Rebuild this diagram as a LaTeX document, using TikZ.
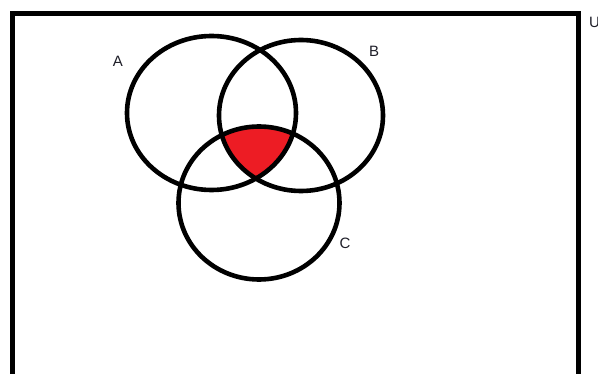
\documentclass[tikz,border=0pt]{standalone}
\usepackage{fontspec}
\setmainfont{Liberation Sans}
\definecolor{vennred}{RGB}{237,28,36}
\definecolor{venntext}{RGB}{30,30,40}
\begin{document}
\begin{tikzpicture}[
    x=1pt, y=-1pt,
    setline/.style={line width=4.6pt, draw=black},
    setlabel/.style={font=\fontsize{15}{18}\selectfont, text=venntext, inner sep=0pt}
  ]
    \useasboundingbox (0,0) rectangle (598,374);

    % Universe
    \draw[line width=5pt] (12.5,400) -- (12.5,14) -- (578.5,14) -- (578.5,400);
    \node[setlabel, anchor=west] (labU) at (589,22) {U};

    % Shaded region: A, B and C together
    \begin{scope}
      \clip (211.5,113) ellipse [x radius=84.5, y radius=77];
      \clip (301,115.5) ellipse [x radius=82, y radius=75.5];
      \fill[vennred] (259,203) ellipse [x radius=80.5, y radius=76.5];
    \end{scope}

    % Sets
    \draw[setline] (211.5,113) ellipse [x radius=84.5, y radius=77];
    \draw[setline] (301,115.5) ellipse [x radius=82, y radius=75.5];
    \draw[setline] (259,203) ellipse [x radius=80.5, y radius=76.5];

    % Set labels
    \node[setlabel] (labA) at (118,61) {A};
    \node[setlabel] (labB) at (374,51) {B};
    \node[setlabel] (labC) at (345,243) {C};
  \end{tikzpicture}
\end{document}
